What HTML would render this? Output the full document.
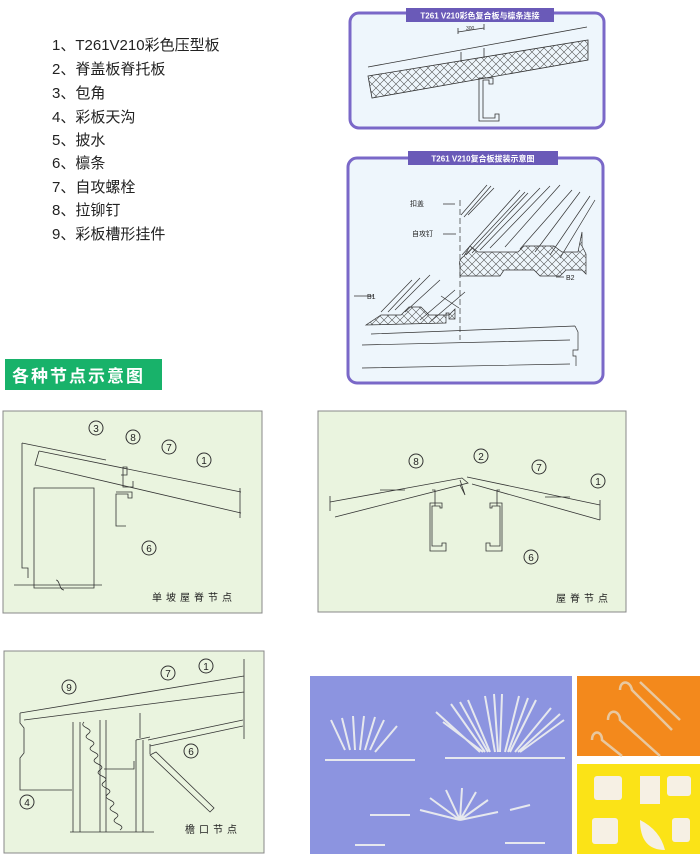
<!DOCTYPE html>
<html><head><meta charset="utf-8"><style>
body{margin:0;width:700px;height:858px;background:#fff;overflow:hidden;font-family:"Liberation Sans","Noto Sans CJK SC",sans-serif}
svg{position:absolute;left:0;top:0}
</style></head><body>
<svg width="700" height="858" viewBox="0 0 700 858" font-family="Liberation Sans, Noto Sans CJK SC, sans-serif">
<defs>
<pattern id="hx" width="8" height="8" patternUnits="userSpaceOnUse"><path d="M0 0L8 8M8 0L0 8" stroke="#555" stroke-width="0.6"/></pattern>
</defs>
<g font-size="15" fill="#222">
<text x="52" y="50">1、T261V210彩色压型板</text>
<text x="52" y="74">2、脊盖板脊托板</text>
<text x="52" y="98">3、包角</text>
<text x="52" y="122">4、彩板天沟</text>
<text x="52" y="145">5、披水</text>
<text x="52" y="168">6、檩条</text>
<text x="52" y="192">7、自攻螺栓</text>
<text x="52" y="215">8、拉铆钉</text>
<text x="52" y="239">9、彩板槽形挂件</text>
</g>
<rect x="350" y="13" width="254" height="115" rx="9" fill="#eef6fc" stroke="#7a68c8" stroke-width="3"/>
<rect x="406" y="8" width="148" height="14" fill="#6a5ab8"/>
<text x="480" y="18.5" font-size="8" fill="#fff" text-anchor="middle" font-weight="bold">T261   V210彩色复合板与檩条连接</text>
<g stroke="#333" fill="none" stroke-width="0.8">
<path d="M368 67L587 27"/>
<path d="M368 76L588 40L588 60L372 98Z" fill="url(#hx)"/>
<path d="M458 32L484 28M458 28v6M484 24v6"/>
<path d="M461 62v-10M484 58v-10"/>
<path d="M479 78h14v6h-4v-4h-6v38h12v-4h4v7h-20z"/>
</g>
<text x="466" y="30" font-size="5" fill="#333">300</text>
<rect x="348" y="158" width="255" height="225" rx="9" fill="#eef6fc" stroke="#7a68c8" stroke-width="3"/>
<rect x="408" y="151" width="150" height="14" fill="#6a5ab8"/>
<text x="483" y="161.5" font-size="8" fill="#fff" text-anchor="middle" font-weight="bold">T261   V210复合板拔装示意图</text>
<g stroke="#333" fill="none" stroke-width="0.7">
<path d="M462 255L520 190M466 255L525 192M472 253L528 193M480 250L540 188M490 248L550 186M505 247L560 185M520 249L572 190M535 252L580 192M550 255L590 196M560 258L595 200"/>
<path d="M464 256q-6 4 -4 10v10h40l4-6h30l6 6h20l6-6h16l4 4v-20l-4 -8v-14l-4 20h-16l-8 -6h-30l-6 6h-40l-8-6z" fill="url(#hx)"/>
<path d="M461 215L487 185M464 217L491 186M468 215L494 188"/>
<path d="M381 312L412 280M388 312L420 278M395 310L430 275M405 312L440 280M420 320L455 290M430 322L465 292"/>
<path d="M381 315h20l8-8h12l8 8h20l6-6v10h-6v-6h-3v10l-80 2z" fill="url(#hx)"/>
<path d="M371 334L575 326M362 345L570 340M362 368L570 364M575 326l3 6v18h-5v6h3v10"/>
<path d="M460 200v140" stroke-dasharray="6 3"/>
<path d="M443 204h12M443 234h13M441 296l18 12M556 277h8M354 296h20"/>
</g>
<g font-size="7" fill="#222"><text x="410" y="206">扣盖</text><text x="412" y="236">自攻钉</text><text x="566" y="280">B2</text><text x="367" y="299">B1</text></g>
<rect x="5" y="359" width="157" height="31" fill="#18b26a"/>
<text x="12" y="382" font-size="17" fill="#fff" font-weight="bold" letter-spacing="2">各种节点示意图</text>
<rect x="3" y="411" width="259" height="202" fill="#eaf4df" stroke="#888" stroke-width="1"/>
<g stroke="#333" fill="none" stroke-width="0.8">
<path d="M22 443L106 460M22 443v125h6v10M39 451l-4 14 206 48M39 451l202 41M240 488v30"/>
<path d="M34 488h60v100H34zM14 585h88M56 580c4 0 3 10 8 10"/>
<path d="M121 475h6v-8h-4v20h10v-6M116 492h16v6h-4v-4h-12v32h10"/>
</g>
<g font-size="10" fill="#222" text-anchor="middle">
<circle cx="96" cy="428" r="7" fill="none" stroke="#333"/><text x="96" y="432">3</text>
<circle cx="133" cy="437" r="7" fill="none" stroke="#333"/><text x="133" y="441">8</text>
<circle cx="169" cy="447" r="7" fill="none" stroke="#333"/><text x="169" y="451">7</text>
<circle cx="204" cy="460" r="7" fill="none" stroke="#333"/><text x="204" y="464">1</text>
<circle cx="149" cy="548" r="7" fill="none" stroke="#333"/><text x="149" y="552">6</text>
</g>
<text x="152" y="601" font-size="10" fill="#222" letter-spacing="4">单坡屋脊节点</text>
<rect x="318" y="411" width="308" height="201" fill="#eaf4df" stroke="#888"/>
<g stroke="#333" fill="none" stroke-width="0.8">
<path d="M330 502L462 478L468 483L335 517M467 477L600 505M472 484L600 520M460 480l5 15l-5-10M330 496v15M600 500v20M380 490h25M545 497h25"/>
<path d="M430 503h12v5h-2v-2h-8v40h10v-3h4v8h-16zM502 503h-12v5h2v-2h8v40h-10v-3h-4v8h16zM432 490h3v16M500 490h-3v16"/>
</g>
<g font-size="10" fill="#222" text-anchor="middle">
<circle cx="416" cy="461" r="7" fill="none" stroke="#333"/><text x="416" y="465">8</text>
<circle cx="481" cy="456" r="7" fill="none" stroke="#333"/><text x="481" y="460">2</text>
<circle cx="539" cy="467" r="7" fill="none" stroke="#333"/><text x="539" y="471">7</text>
<circle cx="598" cy="481" r="7" fill="none" stroke="#333"/><text x="598" y="485">1</text>
<circle cx="531" cy="557" r="7" fill="none" stroke="#333"/><text x="531" y="561">6</text>
</g>
<text x="556" y="602" font-size="10" fill="#222" letter-spacing="4">屋脊节点</text>
<rect x="4" y="651" width="260" height="202" fill="#eaf4df" stroke="#888"/>
<g stroke="#333" fill="none" stroke-width="0.8">
<path d="M20 713L244 676M24 720L244 692M20 713v10l4 5v25l-4 5v32h52M244 659v80"/>
<path d="M73 722v110M80 722v110M100 720v112M106 720v112M84 722c-6 6 12 6 4 12c-8 6 12 6 4 12c-8 6 12 6 4 12c-8 6 12 6 4 12c-8 6 12 6 4 12c-8 6 12 6 4 12c-8 6 12 6 4 12c-8 6 12 6 4 12c-8 6 12 6 4 12"/>
<path d="M70 832h84M136 740v92M143 740v92M136 740l14-3M148 740l95-20M150 746l93-20M150 744v10"/>
<path d="M150 755l60 57l4-4l-58-56z"/>
<path d="M104 769h30v-8M140 713v25"/>
</g>
<g font-size="10" fill="#222" text-anchor="middle">
<circle cx="69" cy="687" r="7" fill="none" stroke="#333"/><text x="69" y="691">9</text>
<circle cx="168" cy="673" r="7" fill="none" stroke="#333"/><text x="168" y="677">7</text>
<circle cx="206" cy="666" r="7" fill="none" stroke="#333"/><text x="206" y="670">1</text>
<circle cx="191" cy="751" r="7" fill="none" stroke="#333"/><text x="191" y="755">6</text>
<circle cx="27" cy="802" r="7" fill="none" stroke="#333"/><text x="27" y="806">4</text>
</g>
<text x="185" y="833" font-size="10" fill="#222" letter-spacing="4">檐口节点</text>
<rect x="310" y="676" width="262" height="178" fill="#8c94e0"/>
<g stroke="#e6e8ee" stroke-width="2" fill="none">
<path d="M345 750l-14-30M350 750l-8-32M355 750l-2-34M360 750l4-34M365 750l10-33M370 750l14-30M375 752l22-26"/>
<path d="M480 752l-44-40M485 752l-34-48M490 752l-22-52M495 752l-10-56M500 752l2-58M505 752l14-56M510 752l26-52M515 752l36-44M520 752l44-32M483 752l-40-30M488 752l-28-50M498 752l-4-58M508 752l20-54M518 752l42-38M325 760h90M445 758h120M370 815h40M460 820l-40-10M460 820l-30-22M460 820l-14-30M460 820l2-32M460 820l16-28M460 820l28-20M460 820l38-8M510 810l20-5M355 845h30M505 843h40"/>
</g>
<rect x="577" y="676" width="123" height="80" fill="#f3891c"/>
<g stroke="#e8c8a0" stroke-width="2.5" fill="none"><path d="M608 720c0-12 12-10 12 0l40 36M620 690c0-10 10-10 12 0l40 40M640 682l40 38M592 740c0-10 10-10 10 0l20 16"/></g>
<rect x="577" y="764" width="123" height="90" fill="#fbe317"/>
<g fill="#f6f0e4"><rect x="594" y="776" width="28" height="24" rx="3"/><rect x="640" y="776" width="20" height="28"/><rect x="667" y="776" width="24" height="20" rx="3"/><rect x="592" y="818" width="26" height="26" rx="3"/><path d="M640 820q20 10 25 30q-25 0 -25-30z"/><rect x="672" y="818" width="18" height="24" rx="3"/></g>
</svg>
</body></html>
